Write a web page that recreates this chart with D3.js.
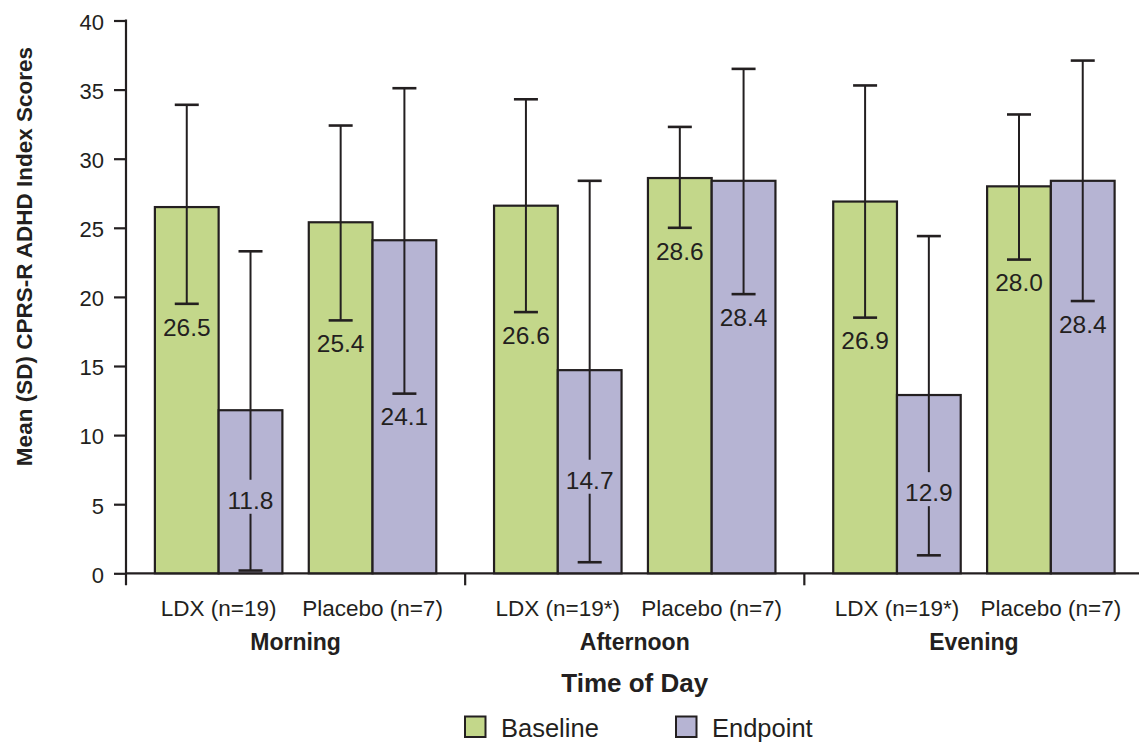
<!DOCTYPE html>
<html>
<head>
<meta charset="utf-8">
<script src="https://cdn.jsdelivr.net/npm/d3@7"></script>
<style>
  html, body { margin: 0; padding: 0; background: #fff; }
  svg { display: block; font-family: "Liberation Sans", Arial, Helvetica, sans-serif; }
</style>
</head>
<body>
<svg id="chart" width="1139" height="742"></svg>
<script>
// ---- Data ----
const groups = ["Morning", "Afternoon", "Evening"];
const arms = ["LDX", "Placebo"];
const armLabels = [
  ["LDX (n=19)", "Placebo (n=7)"],
  ["LDX (n=19*)", "Placebo (n=7)"],
  ["LDX (n=19*)", "Placebo (n=7)"]
];
const series = ["Baseline", "Endpoint"];
// order: Morning LDX, Morning Placebo, Afternoon LDX, Afternoon Placebo, Evening LDX, Evening Placebo
const baselineMean = [26.5, 25.4, 26.6, 28.6, 26.9, 28.0];
const endpointMean = [11.8, 24.1, 14.7, 28.4, 12.9, 28.4];
const baselineLow  = [19.5, 18.3, 18.9, 25.0, 18.5, 22.7];
const baselineHigh = [33.9, 32.4, 34.3, 32.3, 35.3, 33.2];
const endpointLow  = [0.2, 13.0, 0.8, 20.2, 1.3, 19.7];
const endpointHigh = [23.3, 35.1, 28.4, 36.5, 24.4, 37.1];
const yTicks = [0, 5, 10, 15, 20, 25, 30, 35, 40];

// ---- Build table ----
const rows = [];
groups.forEach((g, gi) => {
  arms.forEach((a, ai) => {
    const k = gi * arms.length + ai;
    rows.push({ group: g, arm: a, series: "Baseline", mean: baselineMean[k], low: baselineLow[k], high: baselineHigh[k] });
    rows.push({ group: g, arm: a, series: "Endpoint", mean: endpointMean[k], low: endpointLow[k], high: endpointHigh[k] });
  });
});

// ---- Layout ----
const ink = "#231f20";
const colors = { Baseline: "#c3d78a", Endpoint: "#b6b4d3" };
const svg = d3.select("#chart");
const x0 = 126, x1 = 1143.5, yTop = 20.5, yBase = 573.3;

const y = d3.scaleLinear().domain([0, 40]).range([yBase, yTop]);
const xGroup = d3.scaleBand().domain(groups).range([x0, x1]).padding(0);
const xArm = d3.scaleBand().domain(arms).range([0, xGroup.bandwidth()]).paddingInner(0.1715).paddingOuter(0.1877);
const xSeries = d3.scaleBand().domain(series).range([0, xArm.bandwidth()]).padding(0);

const barX = d => xGroup(d.group) + xArm(d.arm) + xSeries(d.series);
const barCX = d => barX(d) + xSeries.bandwidth() / 2;

// ---- Y axis ----
const yAxis = d3.axisLeft(y).tickValues(yTicks).tickSize(12).tickPadding(10).tickFormat(d3.format("d"));
const gy = svg.append("g").attr("transform", `translate(${x0},0)`).call(yAxis);
gy.attr("font-size", null).attr("font-family", null);
gy.select(".domain").remove();
gy.selectAll(".tick line").attr("stroke", ink).attr("stroke-width", 2.2);
gy.selectAll(".tick text").attr("fill", ink).attr("font-size", 22).attr("dy", "0.40em");
svg.append("line").attr("x1", x0).attr("x2", x0).attr("y1", yTop - 1).attr("y2", yBase + 12)
  .attr("stroke", ink).attr("stroke-width", 2.2);

// ---- X axis line and group ticks ----
svg.append("line").attr("x1", x0).attr("x2", 1139).attr("y1", yBase).attr("y2", yBase)
  .attr("stroke", ink).attr("stroke-width", 2.2);
svg.selectAll(".gtick").data(groups.slice(1)).enter().append("line")
  .attr("x1", d => xGroup(d)).attr("x2", d => xGroup(d))
  .attr("y1", yBase).attr("y2", yBase + 12)
  .attr("stroke", ink).attr("stroke-width", 2.2);

// ---- Bars ----
svg.selectAll(".bar").data(rows).enter().append("rect")
  .attr("x", d => barX(d))
  .attr("y", d => y(d.mean))
  .attr("width", xSeries.bandwidth())
  .attr("height", d => y(0) - y(d.mean))
  .attr("fill", d => colors[d.series])
  .attr("stroke", ink).attr("stroke-width", 2.2);

// ---- Labels & error bars ----
const capW = 24;
rows.forEach(d => {
  const cx = barCX(d);
  const yLow = y(d.low), yHigh = y(d.high);
  let labelY, gap = null;
  if (yLow + 23 + 12 <= y(0)) {
    labelY = yLow + 23;
  } else {
    labelY = (y(d.mean) + y(0)) / 2 + 8;
    gap = [labelY - 20, labelY + 14];
  }
  const g = svg.append("g");
  if (gap) {
    g.append("line").attr("x1", cx).attr("x2", cx).attr("y1", yHigh).attr("y2", gap[0]).attr("stroke", ink).attr("stroke-width", 2);
    g.append("line").attr("x1", cx).attr("x2", cx).attr("y1", gap[1]).attr("y2", yLow).attr("stroke", ink).attr("stroke-width", 2);
  } else {
    g.append("line").attr("x1", cx).attr("x2", cx).attr("y1", yHigh).attr("y2", yLow).attr("stroke", ink).attr("stroke-width", 2);
  }
  [yHigh, yLow].forEach(yy => {
    g.append("line").attr("x1", cx - capW / 2).attr("x2", cx + capW / 2).attr("y1", yy).attr("y2", yy)
      .attr("stroke", ink).attr("stroke-width", 2.6);
  });
  g.append("text").attr("x", cx).attr("y", labelY).attr("dy", "0.36em")
    .attr("text-anchor", "middle").attr("font-size", 24.5).attr("fill", ink)
    .text(d3.format(".1f")(d.mean));
});

// ---- Category labels ----
groups.forEach((g, gi) => {
  arms.forEach((a, ai) => {
    svg.append("text")
      .attr("x", xGroup(g) + xArm(a) + xArm.bandwidth() / 2)
      .attr("y", 616)
      .attr("text-anchor", "middle").attr("font-size", 22.5).attr("fill", ink)
      .text(armLabels[gi][ai]);
  });
  svg.append("text")
    .attr("x", xGroup(g) + xGroup.bandwidth() / 2)
    .attr("y", 650)
    .attr("text-anchor", "middle").attr("font-size", 23).attr("font-weight", "bold").attr("fill", ink)
    .text(g);
});

// ---- Axis titles ----
svg.append("text").attr("x", (x0 + x1) / 2).attr("y", 692)
  .attr("text-anchor", "middle").attr("font-size", 26).attr("font-weight", "bold").attr("fill", ink)
  .text("Time of Day");
svg.append("text").attr("transform", `translate(32,${(50 + 463) / 2}) rotate(-90)`)
  .attr("text-anchor", "middle").attr("font-size", 22.5).attr("font-weight", "bold").attr("fill", ink)
  .text("Mean (SD) CPRS-R ADHD Index Scores");

// ---- Legend ----
const legendX = [465, 676];
series.forEach((s, i) => {
  svg.append("rect").attr("x", legendX[i]).attr("y", 716.5).attr("width", 20.5).attr("height", 20.5)
    .attr("fill", colors[s]).attr("stroke", ink).attr("stroke-width", 2);
  svg.append("text").attr("x", legendX[i] + 36).attr("y", 737)
    .attr("font-size", 25.5).attr("fill", ink).text(s);
});
</script>
</body>
</html>
